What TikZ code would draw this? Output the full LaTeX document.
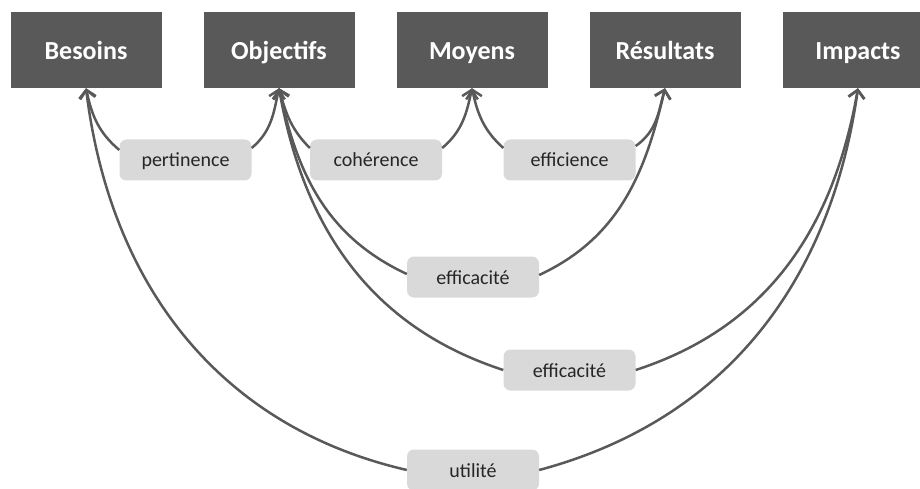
\documentclass[tikz,border=0pt]{standalone}
\usepackage{fontspec}
\setmainfont{Carlito}
\usetikzlibrary{arrows.meta}
\definecolor{boxgray}{HTML}{595959}
\definecolor{labelgray}{HTML}{D9D9D9}

\begin{document}
\begin{tikzpicture}[x=1pt,y=1pt,
    crit/.style={fill=boxgray, text=white, font=\fontsize{26}{30}\selectfont\bfseries,
      minimum width=151pt, minimum height=76pt, inner sep=0pt,
      text height=23pt, text depth=3pt},
    tag/.style={fill=labelgray, text=black!85, font=\fontsize{20}{24}\selectfont,
      rounded corners=7pt, minimum width=132pt, minimum height=41pt, inner sep=0pt,
      text height=17pt, text depth=3pt},
    link/.style={draw=boxgray, line width=2.5pt,
      -{Straight Barb[length=8pt,width=16pt,line width=2.5pt]}}]
  \useasboundingbox (0,0) rectangle (920,488);

  % criteria
  \node[crit] (besoins) at (86,438) {Besoins};
  \node[crit] (objectifs) at (279,438) {Objectifs};
  \node[crit] (moyens) at (472,438) {Moyens};
  \node[crit] (resultats) at (665,438) {Résultats};
  \node[crit] (impacts) at (858,438) {Impacts};

  % evaluation labels
  \node[tag] (pertinence) at (185.5,328) {pertinence};
  \node[tag] (coherence) at (376,328) {cohérence};
  \node[tag] (efficience) at (569.5,328) {efficience};
  \node[tag] (efficacite) at (473,211) {efficacité};
  \node[tag] (efficaciteb) at (569.5,118) {efficacité};
  \node[tag] (utilite) at (473,18) {utilité};

  % short links
  \draw[link] ([yshift=10pt]pertinence.west) to[out=140,in=-78] (besoins.south);
  \draw[link] ([yshift=12pt]pertinence.east) to[out=40,in=-102] (objectifs.south);
  \draw[link] ([yshift=12pt]coherence.west) to[out=135,in=-75] (objectifs.south);
  \draw[link] ([yshift=12pt]coherence.east) to[out=40,in=-102] (moyens.south);
  \draw[link] ([yshift=12pt]efficience.west) to[out=138,in=-78] (moyens.south);
  \draw[link] ([yshift=14pt]efficience.east) to[out=35,in=-105] (resultats.south);

  % long links
  \draw[link] ([yshift=3pt]efficacite.west) to[out=155,in=-78] (objectifs.south);
  \draw[link] ([yshift=2pt]efficacite.east) to[out=25,in=-103] (resultats.south);
  \draw[link] (efficaciteb.west) to[out=162,in=-80] (objectifs.south);
  \draw[link] (efficaciteb.east) to[out=18,in=-100] (impacts.south);
  \draw[link] (utilite.west) to[out=167,in=-83] (besoins.south);
  \draw[link] (utilite.east) to[out=15,in=-98] (impacts.south);
\end{tikzpicture}
\end{document}
